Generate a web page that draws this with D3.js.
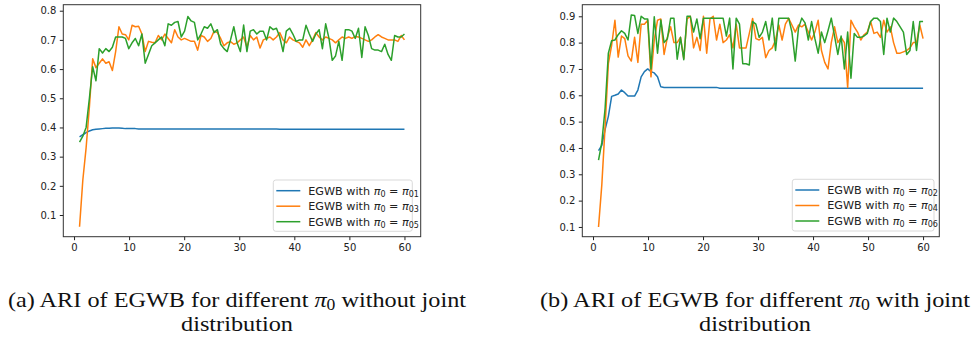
<!DOCTYPE html>
<html>
<head>
<meta charset="utf-8">
<script src="https://cdn.jsdelivr.net/npm/d3@7"></script>
<style>
  body { margin: 0; background: #fff; }
  svg { display: block; }
  .tick text { font-family: "DejaVu Sans", sans-serif; font-size: 10px; fill: #222; }
  .tick line { stroke: #222; }
  .caption { font-family: "Liberation Serif", "Times New Roman", serif; font-size: 22px; fill: #111; }
</style>
</head>
<body>
<svg id="chart" width="973" height="344"></svg>
<script>
// x axis: iterations 1..60, 100 evaluations per run
const iterCount = 100;
const xTicks = [0, 10, 20, 30, 40, 50, 60];
const yTicksA = [0.1, 0.2, 0.3, 0.4, 0.5, 0.6, 0.7, 0.8];
const yTicksB = [0.1, 0.2, 0.3, 0.4, 0.5, 0.6, 0.7, 0.8, 0.9];

const seriesColors = ['#1f77b4', '#ff7f0e', '#2ca02c'];
const legendA = ['01', '03', '05'];
const legendB = ['02', '04', '06'];

// (a) without joint distribution
const ariPi01 = [
  0.368, 0.375, 0.382, 0.388, 0.392, 0.394, 0.395, 0.396, 0.397, 0.397,
  0.398, 0.398, 0.398, 0.397, 0.396, 0.396, 0.396, 0.396, 0.395, 0.395,
  0.395, 0.395, 0.395, 0.395, 0.395, 0.395, 0.395, 0.395, 0.395, 0.395,
  0.395, 0.395, 0.395, 0.395, 0.395, 0.395, 0.395, 0.395, 0.395, 0.395,
  0.395, 0.395, 0.395, 0.395, 0.395, 0.395, 0.395, 0.395, 0.395, 0.395,
  0.395, 0.395, 0.395, 0.395, 0.395, 0.395, 0.395, 0.395, 0.395, 0.395,
  0.395, 0.394, 0.394, 0.394, 0.394, 0.394, 0.394, 0.394, 0.394, 0.394,
  0.394, 0.394, 0.394, 0.394, 0.394, 0.394, 0.394, 0.394, 0.394, 0.394,
  0.394, 0.394, 0.394, 0.394, 0.394, 0.394, 0.394, 0.394, 0.394, 0.394,
  0.394, 0.394, 0.394, 0.394, 0.394, 0.394, 0.394, 0.394, 0.394, 0.394
];
const ariPi03 = [
  0.06, 0.22, 0.33, 0.47, 0.635, 0.605, 0.62, 0.635, 0.62, 0.625,
  0.595, 0.66, 0.745, 0.72, 0.718, 0.70, 0.75, 0.745, 0.747, 0.72,
  0.66, 0.695, 0.692, 0.69, 0.715, 0.70, 0.72, 0.705, 0.69, 0.735,
  0.71, 0.70, 0.705, 0.70, 0.695, 0.695, 0.665, 0.715, 0.71, 0.695,
  0.705, 0.73, 0.725, 0.705, 0.68, 0.69, 0.694, 0.685, 0.69, 0.70,
  0.71, 0.675, 0.715, 0.70, 0.71, 0.672, 0.70, 0.705, 0.71, 0.70,
  0.71, 0.725, 0.70, 0.69, 0.71, 0.70, 0.695, 0.69, 0.675, 0.70,
  0.68, 0.70, 0.725, 0.71, 0.70, 0.71, 0.705, 0.70, 0.69, 0.70,
  0.71, 0.705, 0.71, 0.705, 0.712, 0.71, 0.705, 0.70, 0.695, 0.70,
  0.71, 0.718, 0.71, 0.705, 0.70, 0.70, 0.70, 0.695, 0.715, 0.70
];
const ariPi05 = [
  0.35, 0.37, 0.40, 0.50, 0.608, 0.56, 0.67, 0.655, 0.67, 0.66,
  0.675, 0.71, 0.71, 0.71, 0.705, 0.67, 0.69, 0.705, 0.68, 0.72,
  0.62, 0.65, 0.68, 0.69, 0.70, 0.71, 0.68, 0.755, 0.75, 0.76,
  0.763, 0.71, 0.73, 0.78, 0.765, 0.76, 0.70, 0.72, 0.745, 0.74,
  0.755, 0.725, 0.735, 0.685, 0.67, 0.66, 0.70, 0.745, 0.69, 0.66,
  0.751, 0.66, 0.73, 0.735, 0.72, 0.73, 0.73, 0.70, 0.745, 0.735,
  0.74, 0.71, 0.66, 0.73, 0.74, 0.72, 0.695, 0.70, 0.70, 0.75,
  0.72, 0.695, 0.72, 0.735, 0.67, 0.755, 0.705, 0.63, 0.645, 0.695,
  0.63, 0.735, 0.735, 0.73, 0.705, 0.74, 0.64, 0.745, 0.715, 0.67,
  0.665, 0.665, 0.66, 0.685, 0.65, 0.63, 0.715, 0.71, 0.71, 0.72
];

// (b) with joint distribution
const ariPi02 = [
  0.39, 0.41, 0.47, 0.52, 0.596, 0.60, 0.605, 0.62, 0.61, 0.597,
  0.597, 0.597, 0.62, 0.67, 0.69, 0.70, 0.69, 0.685, 0.67, 0.632,
  0.63, 0.63, 0.63, 0.63, 0.63, 0.63, 0.63, 0.63, 0.63, 0.63,
  0.63, 0.63, 0.63, 0.63, 0.63, 0.63, 0.63, 0.627, 0.627, 0.627,
  0.627, 0.627, 0.627, 0.627, 0.627, 0.627, 0.627, 0.627, 0.627, 0.627,
  0.627, 0.627, 0.627, 0.627, 0.627, 0.627, 0.627, 0.627, 0.627, 0.627,
  0.627, 0.627, 0.627, 0.627, 0.627, 0.627, 0.627, 0.627, 0.627, 0.627,
  0.627, 0.627, 0.627, 0.627, 0.627, 0.627, 0.627, 0.627, 0.627, 0.627,
  0.627, 0.627, 0.627, 0.627, 0.627, 0.627, 0.627, 0.627, 0.627, 0.627,
  0.627, 0.627, 0.627, 0.627, 0.627, 0.627, 0.627, 0.627, 0.627, 0.627
];
const ariPi04 = [
  0.10, 0.26, 0.48, 0.72, 0.79, 0.885, 0.745, 0.825, 0.815, 0.75,
  0.73, 0.82, 0.725, 0.87, 0.87, 0.885, 0.67, 0.81, 0.885, 0.89,
  0.755, 0.82, 0.86, 0.80, 0.80, 0.82, 0.74, 0.89, 0.90, 0.78,
  0.82, 0.77, 0.90, 0.76, 0.89, 0.90, 0.81, 0.87, 0.80, 0.81,
  0.83, 0.78, 0.87, 0.78, 0.78, 0.78, 0.835, 0.892, 0.815, 0.81,
  0.82, 0.743, 0.77, 0.78, 0.81, 0.867, 0.81, 0.87, 0.892, 0.867,
  0.84, 0.867, 0.86, 0.87, 0.84, 0.81, 0.84, 0.885, 0.77, 0.725,
  0.70, 0.80, 0.86, 0.80, 0.82, 0.80, 0.63, 0.885, 0.86, 0.84,
  0.81, 0.83, 0.84, 0.88, 0.835, 0.84, 0.82, 0.885, 0.84, 0.86,
  0.80, 0.76, 0.76, 0.765, 0.77, 0.78, 0.80, 0.80, 0.867, 0.815
];
const ariPi06 = [
  0.354, 0.42, 0.55, 0.76, 0.807, 0.81, 0.83, 0.845, 0.835, 0.81,
  0.905, 0.903, 0.835, 0.90, 0.89, 0.89, 0.70, 0.898, 0.76, 0.886,
  0.80, 0.815, 0.893, 0.893, 0.737, 0.82, 0.735, 0.90, 0.90, 0.84,
  0.89, 0.815, 0.893, 0.893, 0.893, 0.893, 0.893, 0.893, 0.893, 0.825,
  0.893, 0.70, 0.893, 0.87, 0.72, 0.72, 0.715, 0.88, 0.87, 0.82,
  0.84, 0.88, 0.81, 0.893, 0.77, 0.893, 0.893, 0.893, 0.893, 0.84,
  0.73, 0.855, 0.893, 0.875, 0.81, 0.88, 0.815, 0.76, 0.84, 0.80,
  0.845, 0.893, 0.825, 0.755, 0.825, 0.70, 0.84, 0.665, 0.835, 0.82,
  0.82, 0.825, 0.835, 0.88, 0.893, 0.893, 0.88, 0.755, 0.893, 0.84,
  0.893, 0.88, 0.86, 0.84, 0.755, 0.77, 0.88, 0.77, 0.88, 0.88
];

const svg = d3.select('#chart');

const panels = [
  {
    left: 63.3, top: 4.7, width: 357.4, height: 232,
    yDomain: [0.0257, 0.8206], yTicks: yTicksA,
    series: [ariPi01, ariPi03, ariPi05], legend: legendA,
    legendBox: { x: 273.3, y: 180, w: 139, h: 51.3 }
  },
  {
    left: 582.3, top: 4.7, width: 357, height: 232,
    yDomain: [0.063, 0.944], yTicks: yTicksB,
    series: [ariPi02, ariPi04, ariPi06], legend: legendB,
    legendBox: { x: 792.3, y: 179.3, w: 141.7, h: 51.7 }
  }
];

const xIndex = d3.scaleLinear().domain([0, iterCount - 1]).range([1, 60]);

panels.forEach(drawPanel);

function drawPanel(p) {
  const g = svg.append('g').attr('transform', `translate(${p.left},${p.top})`);

  const x = d3.scaleLinear().domain([-1.95, 62.95]).range([0, p.width]);
  const y = d3.scaleLinear().domain(p.yDomain).range([p.height, 0]);

  // axes
  const xAxis = d3.axisBottom(x).tickValues(xTicks).tickSize(3.5).tickPadding(3.5).tickSizeOuter(0);
  const yAxis = d3.axisLeft(y).tickValues(p.yTicks).tickFormat(d3.format('.1f'))
    .tickSize(3.5).tickPadding(3.5).tickSizeOuter(0);

  const gx = g.append('g').attr('transform', `translate(0,${p.height})`).call(xAxis);
  const gy = g.append('g').call(yAxis);
  [gx, gy].forEach(a => a.select('.domain').remove());

  // lines
  const line = d3.line()
    .x((d, i) => x(xIndex(i)))
    .y(d => y(d));

  p.series.forEach((vals, k) => {
    g.append('path')
      .datum(vals)
      .attr('fill', 'none')
      .attr('stroke', seriesColors[k])
      .attr('stroke-width', 1.5)
      .attr('stroke-linejoin', 'round')
      .attr('d', line);
  });

  // frame
  g.append('rect')
    .attr('width', p.width)
    .attr('height', p.height)
    .attr('fill', 'none')
    .attr('stroke', '#333')
    .attr('stroke-width', 1);

  // legend
  const lb = p.legendBox;
  const lg = svg.append('g').attr('transform', `translate(${lb.x},${lb.y})`);
  lg.append('rect')
    .attr('width', lb.w).attr('height', lb.h)
    .attr('rx', 2.5)
    .attr('fill', 'rgba(255,255,255,0.8)')
    .attr('stroke', '#cfcfcf')
    .attr('stroke-width', 0.8);

  p.legend.forEach((sub, k) => {
    const cy = 10.7 + k * 15.5;
    lg.append('line')
      .attr('x1', 3).attr('x2', 27)
      .attr('y1', cy).attr('y2', cy)
      .attr('stroke', seriesColors[k])
      .attr('stroke-width', 1.5);

    const t = lg.append('text')
      .attr('x', 35).attr('y', cy + 3.9)
      .style('font-family', '"DejaVu Sans", sans-serif')
      .style('font-size', '11.2px')
      .style('fill', '#222');
    t.append('tspan').text('EGWB with ');
    t.append('tspan').style('font-style', 'italic').text('π');
    t.append('tspan').attr('dy', 2).style('font-size', '8px').text('0');
    t.append('tspan').attr('dy', -2).text(' = ');
    t.append('tspan').style('font-style', 'italic').text('π');
    t.append('tspan').attr('dy', 2).style('font-size', '8px').text(sub);
  });
}

// captions
const captions = [
  { cx: 237, lines: ['(a) ARI of EGWB for different ', ' without joint'], w: 458 },
  { cx: 755, lines: ['(b) ARI of EGWB for different ', ' with joint'], w: 430 }
];

captions.forEach(c => {
  const t = svg.append('text')
    .attr('class', 'caption')
    .attr('x', c.cx).attr('y', 307)
    .attr('text-anchor', 'middle');
  t.append('tspan').text(c.lines[0]);
  t.append('tspan').style('font-style', 'italic').text('π');
  t.append('tspan').attr('dy', 3).style('font-size', '16px').text('0');
  t.append('tspan').attr('dy', -3).text(c.lines[1]);
  t.attr('textLength', c.w).attr('lengthAdjust', 'spacingAndGlyphs');

  svg.append('text')
    .attr('class', 'caption')
    .attr('x', c.cx).attr('y', 331)
    .attr('text-anchor', 'middle')
    .attr('textLength', 112)
    .attr('lengthAdjust', 'spacingAndGlyphs')
    .text('distribution');
});
</script>
</body>
</html>
